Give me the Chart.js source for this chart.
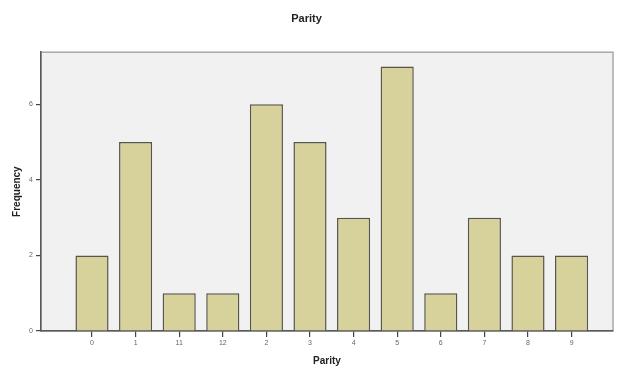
<!DOCTYPE html>
<html>
<head>
<meta charset="utf-8">
<script src="https://cdn.jsdelivr.net/npm/chart.js@4"></script>
<style>
  html, body { margin: 0; padding: 0; background: #fff; }
  #wrap { width: 619px; height: 367px; }
</style>
</head>
<body>
<div id="wrap"><canvas id="parityChart" width="619" height="367"></canvas></div>
<script>
// data
const categories = ["0", "1", "11", "12", "2", "3", "4", "5", "6", "7", "8", "9"];
const frequency = [2, 5, 1, 1, 6, 5, 3, 7, 1, 3, 2, 2];
const yTicks = [0, 2, 4, 6];

// plot background + light frame like SPSS
const frame = {
  id: "frame",
  beforeDraw(chart) {
    const { ctx, chartArea: a } = chart;
    ctx.save();
    ctx.fillStyle = "#f1f1f1";
    ctx.fillRect(a.left, a.top, a.right - a.left, a.bottom - a.top);
    ctx.strokeStyle = "#a8a8a8";
    ctx.lineWidth = 1.5;
    ctx.strokeRect(a.left, a.top, a.right - a.left, a.bottom - a.top);
    ctx.restore();
  }
};

const ctx = document.getElementById("parityChart").getContext("2d");
new Chart(ctx, {
  type: "bar",
  data: {
    datasets: [{
      label: "Frequency",
      data: frequency.map((v, i) => ({ x: i, y: v })),
      backgroundColor: "#d7d29b",
      borderColor: "#55554a",
      borderWidth: 1.5,
      categoryPercentage: 1,
      barPercentage: 0.76
    }]
  },
  options: {
    responsive: false,
    animation: false,
    layout: { padding: { left: 0, right: 6, top: 0, bottom: 0 } },
    plugins: {
      legend: { display: false },
      tooltip: { enabled: false },
      title: {
        display: true,
        text: "Parity",
        color: "#222",
        font: { family: "Arial, Liberation Sans", size: 11, weight: "bold" },
        padding: { top: 12, bottom: 27 }
      }
    },
    scales: {
      x: {
        type: "linear",
        offset: false,
        min: -1.17,
        max: 11.95,
        afterFit: s => { s.height = 36; },
        afterBuildTicks: s => { s.ticks = categories.map((c, i) => ({ value: i })); },
        grid: { offset: false, drawOnChartArea: false, drawTicks: true, tickLength: 6, color: "#444", lineWidth: 1.2 },
        border: { display: true, color: "#5a5a5a", width: 1.5 },
        ticks: {
          callback: v => categories[v],
          color: "#666",
          padding: 2,
          maxRotation: 0,
          font: { family: "Arial, Liberation Sans", size: 7 }
        },
        title: {
          display: true,
          text: "Parity",
          color: "#222",
          font: { family: "Arial, Liberation Sans", size: 10, weight: "bold" },
          padding: { top: 0, bottom: 0 }
        }
      },
      y: {
        min: 0,
        max: 7.38,
        afterFit: s => { s.width = 41; },
        afterBuildTicks: s => { s.ticks = yTicks.map(v => ({ value: v })); },
        grid: { drawOnChartArea: false, drawTicks: true, tickLength: 5, color: "#444", lineWidth: 1.2 },
        border: { display: true, color: "#5a5a5a", width: 1.5 },
        ticks: {
          color: "#666",
          padding: 3,
          font: { family: "Arial, Liberation Sans", size: 7 }
        },
        title: {
          display: true,
          text: "Frequency",
          color: "#222",
          font: { family: "Arial, Liberation Sans", size: 10, weight: "bold" },
          padding: { top: 11, bottom: 0 }
        }
      }
    }
  },
  plugins: [frame]
});
</script>
</body>
</html>
